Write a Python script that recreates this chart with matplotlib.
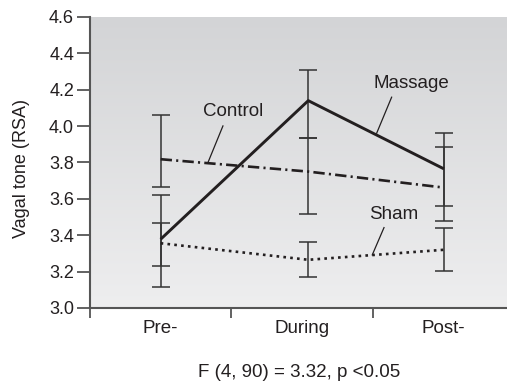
import numpy as np
import matplotlib
matplotlib.use("Agg")
import matplotlib.pyplot as plt

plt.rcParams['font.family'] = ['Liberation Sans Narrow', 'Liberation Sans', 'DejaVu Sans']

# data
categories = ["Pre-", "During", "Post-"]
x_pos = [0.5, 1.545, 2.505]

massage = [3.378, 4.140, 3.765]
massage_hi = [3.619, 4.309, 3.964]
massage_lo = [3.118, 3.932, 3.561]

control = [3.818, 3.750, 3.662]
control_hi = [4.059, 3.932, 3.884]
control_lo = [3.665, 3.519, 3.481]

sham = [3.356, 3.265, 3.320]
sham_hi = [3.470, 3.363, 3.439]
sham_lo = [3.233, 3.171, 3.204]

y_ticks = [3.0, 3.2, 3.4, 3.6, 3.8, 4.0, 4.2, 4.4, 4.6]

fig = plt.figure(figsize=(5.07, 3.86), dpi=100)
ax = fig.add_axes([0.1775, 0.2021, 0.836, 0.7539])

# gray gradient background
grad = np.linspace(0, 1, 256).reshape(-1, 1)
cmap = matplotlib.colors.LinearSegmentedColormap.from_list("bg", ["#d3d4d6", "#eeeeef"])
ax.imshow(grad, extent=[0, 3, 3.0, 4.6], aspect="auto", cmap=cmap, zorder=0, origin="upper")

ink = "#231f20"
err_kw = dict(fmt="none", ecolor="#333333", elinewidth=1.1, capsize=6.5, capthick=1.1, zorder=2)


def draw_err(vals, hi, lo):
    vals = np.array(vals)
    yerr = [vals - np.array(lo), np.array(hi) - vals]
    ax.errorbar(x_pos, vals, yerr=yerr, **err_kw)


draw_err(control, control_hi, control_lo)
draw_err(massage, massage_hi, massage_lo)
draw_err(sham, sham_hi, sham_lo)

ax.plot(x_pos, massage, color=ink, lw=2.1, solid_capstyle="butt", zorder=3)
ax.plot(x_pos, control, color=ink, lw=1.9, linestyle=(0, (4.3, 1.6, 0.8, 1.6)),
        dash_capstyle="butt", zorder=3)
ax.plot(x_pos, sham, color=ink, lw=1.9, linestyle=(0, (1, 1.6)),
        dash_capstyle="butt", zorder=3)

# series labels with leader lines
labels = [("Control", (1.012, 4.078), (0.941, 4.001), (0.833, 3.796)),
          ("Massage", (2.272, 4.232), (2.135, 4.159), (2.029, 3.961)),
          ("Sham", (2.151, 3.512), (2.081, 3.442), (1.998, 3.292))]
for name, txt_xy, l0, l1 in labels:
    ax.text(*txt_xy, name, ha="center", va="center", fontsize=13.5, color=ink, zorder=4)
    ax.plot([l0[0], l1[0]], [l0[1], l1[1]], color=ink, lw=0.9, zorder=4)

ax.set_xlim(0, 3)
ax.set_ylim(3.0, 4.6)
ax.set_yticks(y_ticks)
ax.set_yticklabels([f"{v:.1f}" for v in y_ticks], fontsize=13, color=ink)
ax.set_xticks([0, 1, 2, 3])
ax.set_xticklabels([])
ax.set_xticks([0.5, 1.5, 2.5], minor=True)
ax.set_xticklabels(categories, minor=True, fontsize=13.5, color=ink)
ax.tick_params(axis="x", which="minor", length=0, pad=9)
ax.tick_params(axis="x", which="major", length=7.5, width=1.3, color="#555555", direction="out")
ax.tick_params(axis="y", length=9.5, width=1.3, color="#555555", direction="out", pad=2)

for s in ["top", "right"]:
    ax.spines[s].set_visible(False)
for s in ["left", "bottom"]:
    ax.spines[s].set_color("#555555")
    ax.spines[s].set_linewidth(1.5)
    ax.spines[s].set_zorder(5)

ax.set_ylabel("Vagal tone (RSA)", fontsize=13, color=ink)
ax.yaxis.set_label_coords(-0.141, 0.481)

fig.text(0.59, 0.034, "F (4, 90) = 3.32, p <0.05", ha="center", va="center",
         fontsize=13.5, color=ink)

fig.savefig("out.png", dpi=100)
